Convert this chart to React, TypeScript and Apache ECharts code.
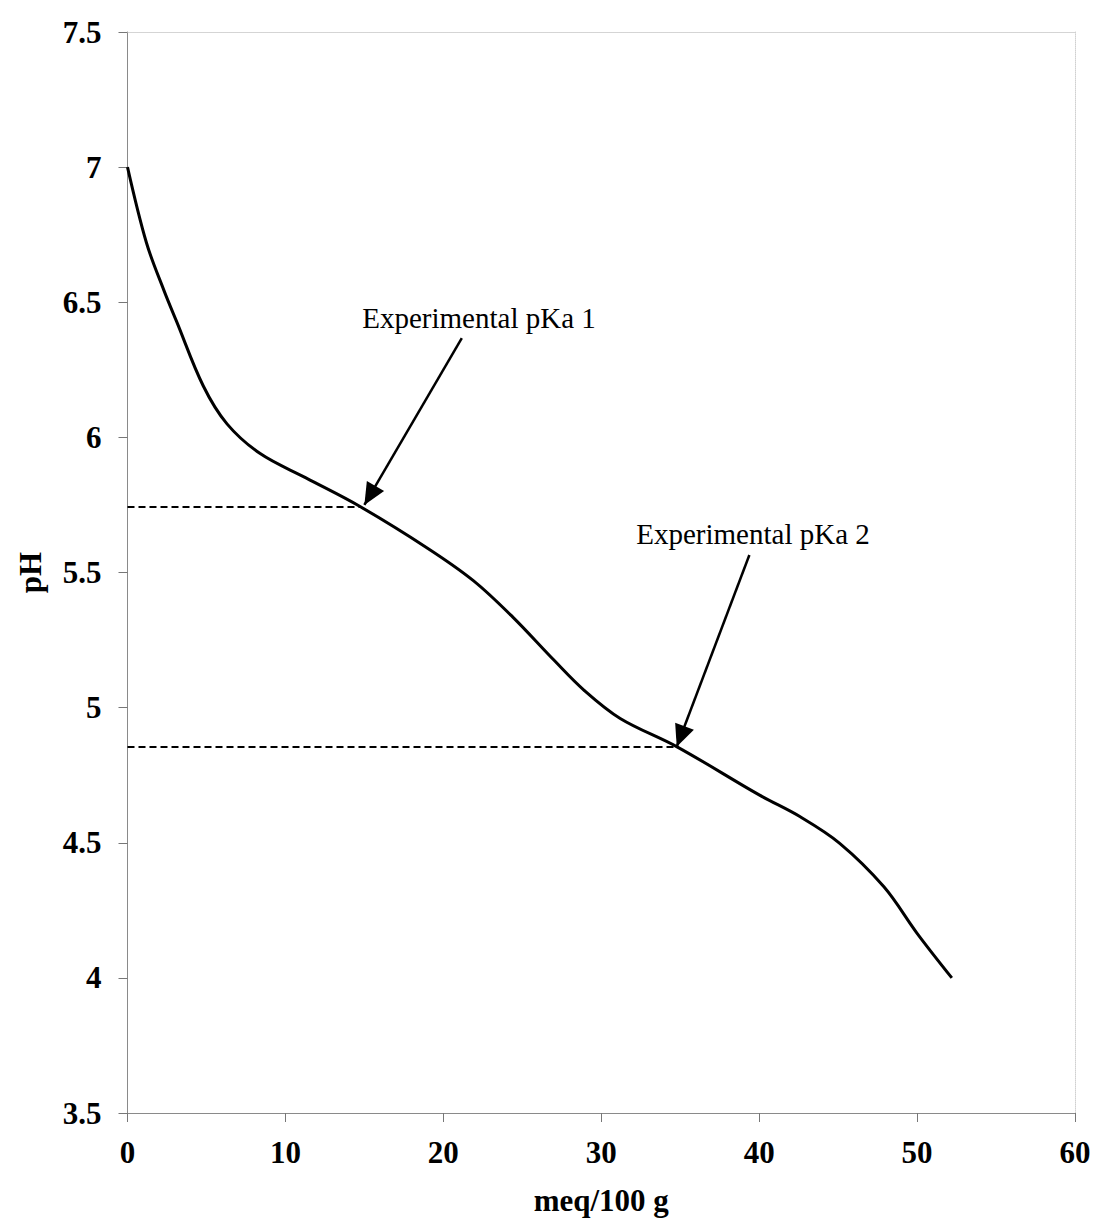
import React, { useEffect, useRef } from "react";
import * as echarts from "echarts";

// Titration curve (meq/100 g vs pH)
const meqValues = [0, 1.2, 2.3, 3.1, 4.8, 6.3, 8.4, 11.3, 14.7, 19, 21.9, 24.4, 27, 28.9, 31.2, 34.8, 40, 42.6, 45.1, 47.9, 50, 52.2];
const phValues = [7.0, 6.72, 6.545, 6.43, 6.19, 6.05, 5.94, 5.85, 5.745, 5.59, 5.47, 5.335, 5.176, 5.065, 4.96, 4.855, 4.677, 4.596, 4.498, 4.337, 4.165, 4.0];

// pKa reference lines: [meq end, pH]
const pkaLines = [
  [14.8, 5.745],
  [34.6, 4.855],
];

// Arrows: [from, to] in data coordinates
const arrowLines = [
  [[21.17, 6.367], [15.0, 5.75]],
  [[39.38, 5.565], [34.78, 4.855]],
];

// Annotation labels
const labelTexts = ["Experimental pKa 1", "Experimental pKa 2"];
const labelCoords = [
  [22.26, 6.442],
  [39.61, 5.642],
];

const xTicks = { min: 0, max: 60, interval: 10 };
const yTicks = { min: 3.5, max: 7.5, interval: 0.5 };

const FONT = "'Liberation Serif', 'Times New Roman', serif";

export default function App() {
  const ref = useRef<HTMLDivElement>(null);

  useEffect(() => {
    if (!ref.current) return;
    const chart = echarts.init(ref.current, undefined, { renderer: "svg" });

    const curve = meqValues.map((x, i) => [x, phValues[i]]);

    const tickLabel = {
      fontFamily: FONT,
      fontWeight: "bold",
      fontSize: 31,
      color: "#000",
    };

    chart.setOption({
      animation: false,
      backgroundColor: "#fff",
      grid: { left: 127.5, right: 20, top: 32, bottom: 112, containLabel: false },
      xAxis: [
        {
          type: "value",
          min: xTicks.min,
          max: xTicks.max,
          interval: xTicks.interval,
          name: "meq/100 g",
          nameLocation: "middle",
          nameGap: 72,
          nameTextStyle: { ...tickLabel },
          axisLine: { show: true, onZero: false, lineStyle: { color: "#8a8a8a", width: 1 } },
          axisTick: { show: true, length: 9, lineStyle: { color: "#777" } },
          axisLabel: { ...tickLabel, margin: 24 },
          splitLine: { show: false },
        },
        {
          type: "value",
          position: "top",
          min: xTicks.min,
          max: xTicks.max,
          axisLine: { show: true, onZero: false, lineStyle: { color: "#d0d0d0", width: 1, type: "dotted" } },
          axisTick: { show: false },
          axisLabel: { show: false },
          splitLine: { show: false },
        },
      ],
      yAxis: [
        {
          type: "value",
          min: yTicks.min,
          max: yTicks.max,
          interval: yTicks.interval,
          name: "pH",
          nameLocation: "middle",
          nameRotate: 90,
          nameGap: 82,
          nameTextStyle: { ...tickLabel },
          axisLine: { show: true, onZero: false, lineStyle: { color: "#8a8a8a", width: 1 } },
          axisTick: { show: true, length: 9, lineStyle: { color: "#777" } },
          axisLabel: { ...tickLabel, margin: 26 },
          splitLine: { show: false },
        },
        {
          type: "value",
          position: "right",
          min: yTicks.min,
          max: yTicks.max,
          axisLine: { show: true, onZero: false, lineStyle: { color: "#d0d0d0", width: 1, type: "dotted" } },
          axisTick: { show: false },
          axisLabel: { show: false },
          splitLine: { show: false },
        },
      ],
      series: [
        {
          type: "line",
          data: curve,
          smooth: 0.35,
          showSymbol: false,
          symbol: "none",
          lineStyle: { color: "#000", width: 3 },
          z: 3,
        },
        {
          type: "line",
          data: [],
          markLine: {
            silent: true,
            symbol: ["none", "none"],
            label: { show: false },
            lineStyle: { color: "#000", width: 2, type: [7, 4] },
            data: pkaLines.map(([xe, ph]) => [
              { coord: [0, ph] },
              { coord: [xe, ph] },
            ]),
          },
        },
        {
          type: "line",
          data: [],
          markLine: {
            silent: true,
            symbol: ["none", "triangle"],
            symbolSize: [20, 22],
            symbolOffset: [0, [0, 11]],
            label: { show: false },
            lineStyle: { color: "#000", width: 2.5, type: "solid" },
            itemStyle: { color: "#000" },
            data: arrowLines.map(([a, b]) => [{ coord: a }, { coord: b }]),
          },
          markPoint: {
            silent: true,
            symbol: "circle",
            symbolSize: 0,
            data: labelTexts.map((t, i) => ({
              name: t,
              coord: labelCoords[i],
              label: {
                show: true,
                position: "inside",
                formatter: t,
                fontFamily: FONT,
                fontSize: 29,
                color: "#000",
              },
            })),
          },
        },
      ],
    });

    return () => chart.dispose();
  }, []);

  return (
    <div
      ref={ref}
      style={{ position: "absolute", left: 0, top: 0, width: 1095, height: 1225, overflow: "visible" }}
    />
  );
}
